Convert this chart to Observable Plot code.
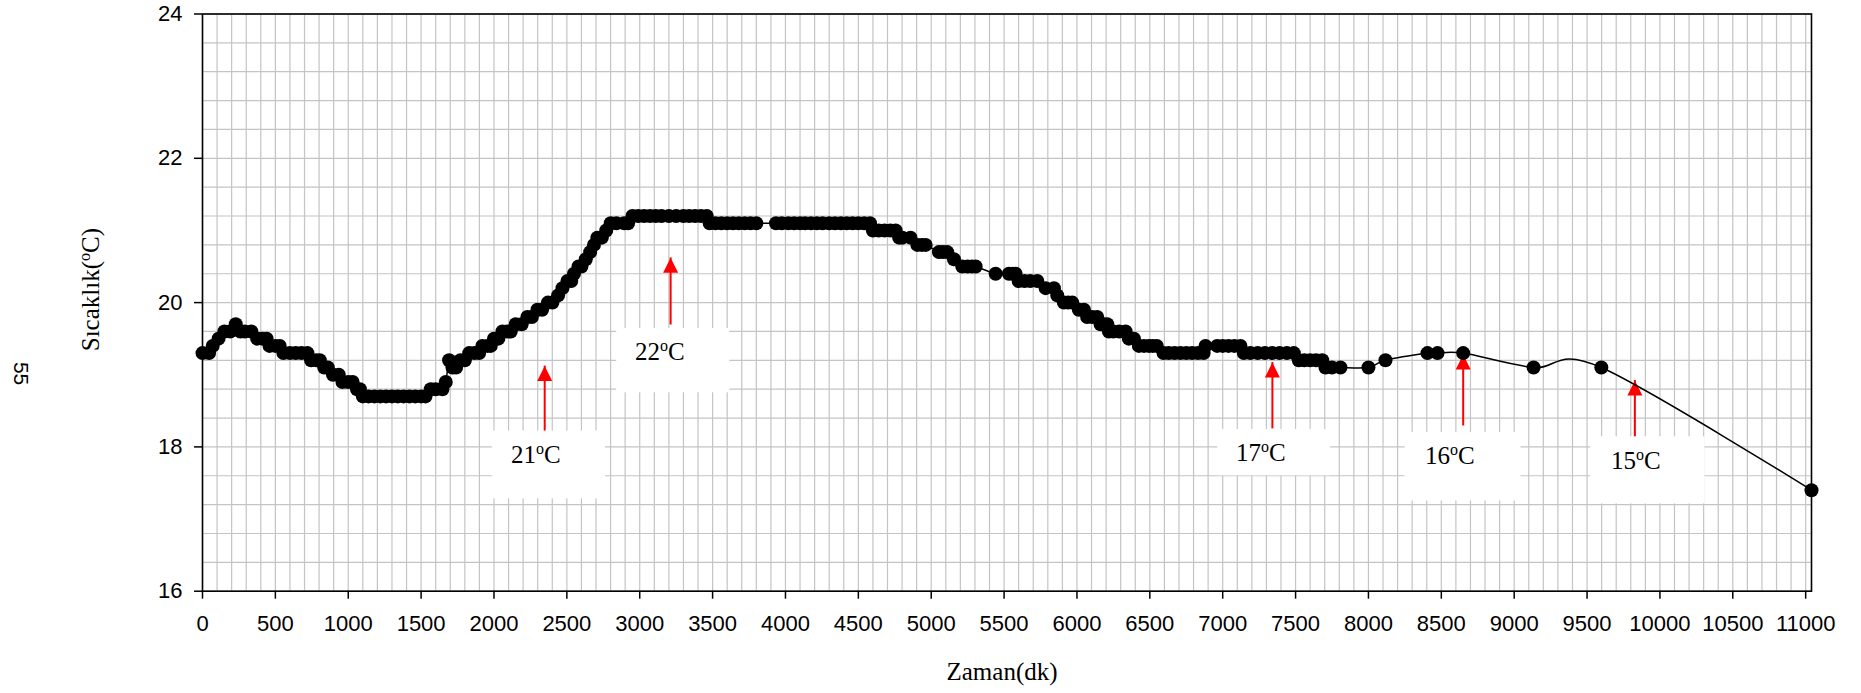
<!DOCTYPE html>
<html>
<head>
<meta charset="utf-8">
<script src="https://cdn.jsdelivr.net/npm/d3@7"></script>
<script src="https://cdn.jsdelivr.net/npm/@observablehq/plot@0.6"></script>
<style>
  html, body { margin: 0; padding: 0; background: #fff; }
  #chart svg { display: block; }
</style>
</head>
<body>
<div id="chart"></div>
<script>
// Measured temperature over time (minutes, °C)
const time = [
  0, 45, 70, 110, 150, 190, 228, 260, 290, 335, 375, 410, 440, 460, 500, 530,
  555, 600, 640, 680, 720, 745, 780, 805, 835, 860, 895, 935, 960, 1000, 1030, 1060,
  1080, 1100, 1140, 1180, 1220, 1260, 1300, 1340, 1380, 1420, 1460, 1500, 1530, 1566, 1600, 1646,
  1669, 1692, 1715, 1740, 1770, 1800, 1830, 1865, 1898, 1920, 1955, 1978, 2000, 2030, 2058, 2090,
  2115, 2149, 2190, 2229, 2260, 2298, 2330, 2370, 2401, 2440, 2470, 2504, 2530, 2549, 2580, 2600,
  2630, 2660, 2686, 2709, 2740, 2770, 2801, 2840, 2893, 2920, 2950, 2990, 3030, 3070, 3110, 3150,
  3200, 3250, 3300, 3340, 3380, 3420, 3460, 3480, 3520, 3560, 3600, 3640, 3680, 3720, 3760, 3800,
  3935, 3975, 4020, 4060, 4100, 4135, 4175, 4215, 4255, 4300, 4340, 4380, 4420, 4460, 4500, 4540,
  4580, 4600, 4640, 4680, 4720, 4756, 4780, 4802, 4858, 4905, 4935, 4962, 5053, 5080, 5110, 5156,
  5213, 5250, 5280, 5305, 5442, 5533, 5560, 5579, 5600, 5640, 5680, 5728, 5785, 5842, 5865, 5910,
  5940, 5968, 6013, 6048, 6070, 6105, 6139, 6162, 6185, 6208, 6219, 6250, 6290, 6334, 6356, 6391,
  6425, 6460, 6494, 6520, 6548, 6594, 6630, 6670, 6710, 6750, 6790, 6830, 6869, 6882, 6962, 7000,
  7040, 7080, 7122, 7145, 7190, 7240, 7290, 7340, 7390, 7440, 7488, 7522, 7560, 7600, 7640, 7683,
  7705, 7750, 7808, 8000, 8117, 8405, 8474, 8650, 9133, 9598, 11040
];
const temp = [
  19.3, 19.3, 19.4, 19.5, 19.6, 19.6, 19.7, 19.6, 19.6, 19.6, 19.5, 19.5, 19.5, 19.4, 19.4, 19.4,
  19.3, 19.3, 19.3, 19.3, 19.3, 19.2, 19.2, 19.2, 19.1, 19.1, 19.0, 19.0, 18.9, 18.9, 18.9, 18.8,
  18.8, 18.7, 18.7, 18.7, 18.7, 18.7, 18.7, 18.7, 18.7, 18.7, 18.7, 18.7, 18.7, 18.8, 18.8, 18.8,
  18.9, 19.2, 19.1, 19.1, 19.2, 19.2, 19.3, 19.3, 19.3, 19.4, 19.4, 19.4, 19.5, 19.5, 19.6, 19.6,
  19.6, 19.7, 19.7, 19.8, 19.8, 19.9, 19.9, 20.0, 20.0, 20.1, 20.2, 20.3, 20.3, 20.4, 20.5, 20.5,
  20.6, 20.7, 20.8, 20.9, 20.9, 21.0, 21.1, 21.1, 21.1, 21.1, 21.2, 21.2, 21.2, 21.2, 21.2, 21.2,
  21.2, 21.2, 21.2, 21.2, 21.2, 21.2, 21.2, 21.1, 21.1, 21.1, 21.1, 21.1, 21.1, 21.1, 21.1, 21.1,
  21.1, 21.1, 21.1, 21.1, 21.1, 21.1, 21.1, 21.1, 21.1, 21.1, 21.1, 21.1, 21.1, 21.1, 21.1, 21.1,
  21.1, 21.0, 21.0, 21.0, 21.0, 21.0, 20.9, 20.9, 20.9, 20.8, 20.8, 20.8, 20.7, 20.7, 20.7, 20.6,
  20.5, 20.5, 20.5, 20.5, 20.4, 20.4, 20.4, 20.4, 20.3, 20.3, 20.3, 20.3, 20.2, 20.2, 20.1, 20.0,
  20.0, 20.0, 19.9, 19.9, 19.8, 19.8, 19.8, 19.7, 19.7, 19.7, 19.6, 19.6, 19.6, 19.6, 19.5, 19.5,
  19.4, 19.4, 19.4, 19.4, 19.4, 19.3, 19.3, 19.3, 19.3, 19.3, 19.3, 19.3, 19.3, 19.4, 19.4, 19.4,
  19.4, 19.4, 19.4, 19.3, 19.3, 19.3, 19.3, 19.3, 19.3, 19.3, 19.3, 19.2, 19.2, 19.2, 19.2, 19.2,
  19.1, 19.1, 19.1, 19.1, 19.2, 19.3, 19.3, 19.3, 19.1, 19.1, 17.4
];

// Axis ticks and grid
const xTicks = [0, 500, 1000, 1500, 2000, 2500, 3000, 3500, 4000, 4500, 5000, 5500,
                6000, 6500, 7000, 7500, 8000, 8500, 9000, 9500, 10000, 10500, 11000];
const yTicks = [16, 18, 20, 22, 24];
const xGridStep = 100;
const yGridStep = 0.4;

// Set-point annotations: label, text position, white box, red arrow
const noteLabels = ["21°C", "22°C", "17°C", "16°C", "15°C"];
const noteTextX  = [2287, 3138, 7262, 8558, 9834];
const noteTextY  = [17.89, 19.31, 17.91, 17.87, 17.80];
const boxX1      = [1989, 2842, 6966, 8251, 9525];
const boxX2      = [2766, 3618, 7741, 9047, 10309];
const boxY1      = [17.28, 18.75, 17.60, 17.25, 17.21];
const boxY2      = [18.22, 19.64, 18.24, 18.20, 18.14];
const arrowX     = [2348, 3212, 7341, 8650, 9828];
const arrowTip   = [19.12, 20.62, 19.17, 19.28, 18.92];
const arrowBase  = [18.22, 19.69, 18.25, 18.29, 18.14];

const series = time.map((t, i) => ({t, v: temp[i]}));
const notes = noteLabels.map((label, i) => ({
  label, tx: noteTextX[i], ty: noteTextY[i],
  x1: boxX1[i], x2: boxX2[i], y1: boxY1[i], y2: boxY2[i],
  ax: arrowX[i], tip: arrowTip[i], base: arrowBase[i]
}));

const xMax = time[time.length - 1];
const xGrid = d3.range(0, xMax + 1, xGridStep);
const yGrid = d3.range(0, 21).map(i => +(yTicks[0] + i * yGridStep).toFixed(1));

// Filled arrowhead with its tip at the anchor point
const arrowHead = {
  draw(ctx) {
    ctx.moveTo(0, 0);
    ctx.lineTo(-7.5, 15);
    ctx.lineTo(7.5, 15);
    ctx.closePath();
  }
};

const serif = "'Liberation Serif', 'Times New Roman', serif";
const sans = "'Liberation Sans', Arial, Helvetica, sans-serif";
const gridColor = "#c4c4c4";
const plain = d => String(d);

const chart = Plot.plot({
  width: 1861,
  height: 693,
  marginLeft: 202,
  marginRight: 50,
  marginTop: 13.5,
  marginBottom: 102.3,
  style: {fontFamily: sans, fontSize: "22px", background: "#fff", color: "#000", overflow: "visible"},
  x: {domain: [0, xMax]},
  y: {domain: [yTicks[0], yTicks[yTicks.length - 1]]},
  marks: [
    Plot.gridX(xGrid, {stroke: gridColor, strokeOpacity: 1, strokeWidth: 1.2}),
    Plot.gridY(yGrid, {stroke: gridColor, strokeOpacity: 1, strokeWidth: 1.2}),
    Plot.rect(notes, {x1: "x1", x2: "x2", y1: "y1", y2: "y2", fill: "white"}),
    Plot.ruleX(notes, {x: "ax", y1: "base", y2: "tip", stroke: "#ff0000", strokeWidth: 2}),
    Plot.dot(notes, {x: "ax", y: "tip", symbol: arrowHead, fill: "#ff0000", stroke: "none"}),
    Plot.axisX(xTicks, {tickSize: 8, tickPadding: 16, strokeWidth: 1.5, label: null,
                        fontSize: 22, tickFormat: plain}),
    Plot.axisY(yTicks, {tickSize: 8, tickPadding: 12, strokeWidth: 1.5, label: null,
                        fontSize: 22, tickFormat: plain}),
    Plot.frame({stroke: "#000", strokeWidth: 1.6}),
    Plot.line(series, {x: "t", y: "v", curve: "cardinal", stroke: "#000", strokeWidth: 1.5}),
    Plot.dot(series, {x: "t", y: "v", r: 7, fill: "#000", stroke: "none"}),
    Plot.text(notes, {x: "tx", y: "ty", text: "label", fontFamily: serif, fontSize: 25,
                      fill: "#000", lineAnchor: "middle", className: "sup-label"}),
    Plot.text(["Zaman(dk)"], {text: d => d, frameAnchor: "bottom", dy: 81, dx: -5,
                              fontFamily: serif, fontSize: 25, fill: "#000", lineAnchor: "middle"}),
    Plot.text(["Sıcaklık(°C)"], {text: d => d, frameAnchor: "left", dx: -112, dy: -13, rotate: -90,
                                 textAnchor: "middle", fontFamily: serif, fontSize: 25, fill: "#000",
                                 lineAnchor: "middle", className: "sup-label"}),
    Plot.text(["55"], {text: d => d, frameAnchor: "left", dx: -182, dy: 71, rotate: 90,
                       textAnchor: "middle", fontFamily: sans, fontSize: 21, fill: "#000",
                       lineAnchor: "middle"})
  ]
});

// Typeset the degree mark as a raised small "o"
d3.select(chart).selectAll(".sup-label text").each(function () {
  const s = this.textContent;
  const k = s.indexOf("°");
  if (k < 0) return;
  const el = d3.select(this);
  el.text(null);
  el.append("tspan").text(s.slice(0, k));
  el.append("tspan").attr("dy", "-9px").attr("font-size", "0.64em").text("o");
  el.append("tspan").attr("dy", "9px").text(s.slice(k + 1));
});

document.getElementById("chart").append(chart);
</script>
</body>
</html>
